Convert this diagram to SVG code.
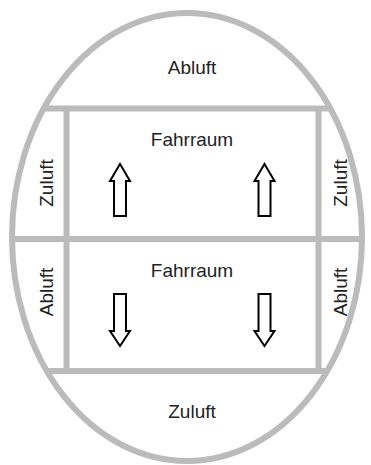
<svg xmlns="http://www.w3.org/2000/svg" width="371" height="465" viewBox="0 0 371 465">
<style>
.wall{fill:none;stroke:#bbbbbb;stroke-width:6}
.lbl{font-family:"Liberation Sans",Arial,sans-serif;font-size:19px;fill:#222;text-anchor:middle}
.arr{fill:#fff;stroke:#000;stroke-width:2;stroke-linejoin:miter}
</style>
<defs>
<clipPath id="inside"><ellipse cx="187" cy="237" rx="175" ry="224"/></clipPath>
</defs>
<rect width="371" height="465" fill="#fff"/>
<g id="connectors">
<g clip-path="url(#inside)">
<line class="wall" x1="0" y1="108.5" x2="371" y2="108.5" stroke-width="7"/>
<line class="wall" x1="0" y1="239" x2="371" y2="239" stroke-width="7"/>
<line class="wall" x1="0" y1="371" x2="371" y2="371" stroke-width="7"/>
</g>
<line class="wall" x1="66.5" y1="108.5" x2="66.5" y2="371" stroke-width="7"/>
<line class="wall" x1="318.5" y1="108.5" x2="318.5" y2="371" stroke-width="7"/>
<ellipse class="wall" cx="187" cy="237" rx="175" ry="224"/>
</g>
<g id="abluft-top"><text class="lbl" x="192" y="74">Abluft</text></g>
<g id="fahrraum-up">
<text class="lbl" x="192" y="146">Fahrraum</text>
<path class="arr" d="M120,164 L130,181 L126,181 L126,216 L114,216 L114,181 L110,181 Z"/>
<path class="arr" d="M264.5,164 L274.5,181 L270.5,181 L270.5,216 L258.5,216 L258.5,181 L254.5,181 Z"/>
</g>
<g id="fahrraum-down">
<text class="lbl" x="192" y="277">Fahrraum</text>
<path class="arr" d="M114,294 L126,294 L126,331 L130,331 L120,346 L110,331 L114,331 Z"/>
<path class="arr" d="M258.5,294 L270.5,294 L270.5,331 L274.5,331 L264.5,346 L254.5,331 L258.5,331 Z"/>
</g>
<g id="zuluft-left"><text class="lbl" transform="translate(53,183) rotate(-90)">Zuluft</text></g>
<g id="zuluft-right"><text class="lbl" transform="translate(347,183) rotate(-90)">Zuluft</text></g>
<g id="abluft-left"><text class="lbl" transform="translate(53,292) rotate(-90)">Abluft</text></g>
<g id="abluft-right"><text class="lbl" transform="translate(347,292) rotate(-90)">Abluft</text></g>
<g id="zuluft-bottom"><text class="lbl" x="192" y="418">Zuluft</text></g>
</svg>
